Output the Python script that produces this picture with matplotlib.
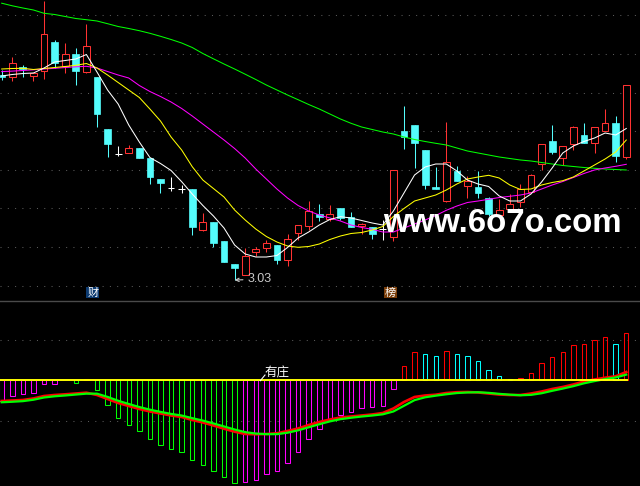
import numpy as np
import matplotlib
matplotlib.use('Agg')
import matplotlib.pyplot as plt
from matplotlib.patches import Rectangle
from matplotlib.lines import Line2D

plt.rcParams['font.family'] = ['Noto Sans CJK SC', 'DejaVu Sans']

# ---------------- data ----------------
opens = [5.08, 5.06, 5.16, 5.07, 5.12, 5.41, 5.17, 5.29, 5.11, 5.06,
         4.54, 4.29, 4.30, 4.35, 4.25, 4.04, 3.95, 3.94, 3.94, 3.53,
         3.61, 3.42, 3.19, 3.08, 3.31, 3.35, 3.38, 3.23, 3.50, 3.57,
         3.69, 3.64, 3.75, 3.66, 3.57, 3.56, 3.54, 3.46, 4.52, 4.58,
         4.33, 3.96, 3.82, 4.12, 3.97, 3.96, 3.85, 3.68, 3.74, 3.81,
         3.91, 4.19, 4.42, 4.25, 4.39, 4.48, 4.40, 4.52, 4.60, 4.26]
closes = [5.06, 5.20, 5.14, 5.10, 5.49, 5.20, 5.29, 5.12, 5.37, 4.69,
          4.39, 4.29, 4.35, 4.25, 4.06, 4.00, 3.95, 3.94, 3.56, 3.61,
          3.40, 3.21, 3.15, 3.27, 3.34, 3.40, 3.23, 3.44, 3.58, 3.72,
          3.66, 3.69, 3.65, 3.56, 3.59, 3.49, 3.54, 4.13, 4.46, 4.40,
          3.98, 3.94, 4.21, 4.02, 4.02, 3.90, 3.69, 3.73, 3.79, 3.94,
          4.08, 4.39, 4.31, 4.37, 4.56, 4.40, 4.56, 4.60, 4.27, 4.98]
highs = [5.13, 5.26, 5.18, 5.10, 5.82, 5.43, 5.40, 5.35, 5.59, 5.06,
         4.54, 4.37, 4.38, 4.35, 4.25, 4.04, 4.06, 3.98, 3.94, 3.70,
         3.61, 3.42, 3.19, 3.35, 3.36, 3.43, 3.38, 3.49, 3.58, 3.82,
         3.79, 3.78, 3.75, 3.71, 3.60, 3.56, 3.63, 4.13, 4.77, 4.58,
         4.33, 4.16, 4.61, 4.17, 4.07, 4.12, 3.86, 3.84, 3.89, 3.99,
         4.09, 4.39, 4.58, 4.37, 4.57, 4.60, 4.56, 4.74, 4.67, 4.98]
lows = [5.03, 5.02, 5.06, 5.02, 5.04, 5.15, 5.10, 4.98, 5.10, 4.56,
        4.26, 4.27, 4.30, 4.25, 3.99, 3.90, 3.92, 3.90, 3.48, 3.52,
        3.36, 3.21, 3.03, 3.08, 3.27, 3.31, 3.19, 3.17, 3.43, 3.53,
        3.62, 3.62, 3.63, 3.56, 3.49, 3.44, 3.43, 3.42, 4.34, 4.15,
        3.94, 3.94, 3.81, 4.02, 3.85, 3.85, 3.67, 3.68, 3.74, 3.76,
        3.91, 4.13, 4.29, 4.18, 4.33, 4.40, 4.30, 4.52, 4.21, 4.24]

ma5 = [5.07, 5.085, 5.095, 5.10, 5.15, 5.21, 5.225, 5.24, 5.285, 5.11,
       4.93, 4.79, 4.58, 4.41, 4.255, 4.195, 4.125, 4.013, 3.89, 3.775,
       3.67, 3.55, 3.38, 3.29, 3.26, 3.26, 3.275, 3.355, 3.45, 3.51,
       3.58, 3.635, 3.663, 3.65, 3.625, 3.60, 3.58, 3.72, 3.90, 4.08,
       4.16, 4.19, 4.19, 4.12, 4.03, 3.99, 3.965, 3.87, 3.82, 3.82,
       3.89, 4.01, 4.15, 4.30, 4.37, 4.415, 4.45, 4.50, 4.48, 4.545]
ma10 = [5.14, 5.145, 5.147, 5.135, 5.145, 5.155, 5.165, 5.177, 5.195, 5.15,
        5.08, 5.005, 4.93, 4.855, 4.74, 4.62, 4.46, 4.33, 4.163, 4.03,
        3.945, 3.86, 3.73, 3.63, 3.54, 3.465, 3.41, 3.37, 3.357, 3.365,
        3.39, 3.435, 3.47, 3.495, 3.505, 3.53, 3.565, 3.665, 3.745, 3.82,
        3.85, 3.88, 3.93, 3.99, 4.04, 4.06, 4.077, 4.05, 3.98, 3.935,
        3.94, 3.98, 4.005, 4.023, 4.06, 4.12, 4.18, 4.24, 4.31, 4.43]
ma20 = [5.114, 5.119, 5.125, 5.132, 5.14, 5.147, 5.155, 5.162, 5.167, 5.15,
        5.115, 5.08, 5.05, 4.975, 4.915, 4.865, 4.81, 4.745, 4.67, 4.59,
        4.51, 4.43, 4.345, 4.25, 4.14, 4.04, 3.94, 3.85, 3.775, 3.72,
        3.68, 3.65, 3.62, 3.58, 3.555, 3.537, 3.51, 3.51, 3.55, 3.59,
        3.63, 3.675, 3.727, 3.77, 3.805, 3.82, 3.837, 3.855, 3.867, 3.88,
        3.90, 3.94, 3.98, 4.015, 4.055, 4.095, 4.13, 4.15, 4.167, 4.187]
ma60 = [5.798, 5.772, 5.75, 5.73, 5.697, 5.685, 5.665, 5.645, 5.633, 5.62,
        5.593, 5.565, 5.545, 5.523, 5.497, 5.467, 5.435, 5.40, 5.355, 5.295,
        5.242, 5.19, 5.14, 5.088, 5.035, 4.98, 4.93, 4.88, 4.833, 4.785,
        4.74, 4.69, 4.64, 4.597, 4.56, 4.535, 4.51, 4.49, 4.46, 4.435,
        4.415, 4.397, 4.38, 4.35, 4.32, 4.30, 4.28, 4.26, 4.245, 4.23,
        4.22, 4.205, 4.19, 4.175, 4.165, 4.155, 4.147, 4.14, 4.135, 4.13]

macd_bars = [-0.050, -0.040, -0.035, -0.032, -0.010, -0.009, 0.0, -0.0074, 0.0032, -0.0247,
             -0.060, -0.092, -0.110, -0.124, -0.144, -0.159, -0.169, -0.176, -0.198, -0.208,
             -0.223, -0.240, -0.254, -0.252, -0.245, -0.231, -0.223, -0.203, -0.176, -0.144,
             -0.121, -0.098, -0.085, -0.078, -0.068, -0.067, -0.063, -0.021, 0.035, 0.069,
             0.064, 0.059, 0.072, 0.064, 0.059, 0.047, 0.025, 0.010, 0.003, 0.005,
             0.017, 0.042, 0.057, 0.069, 0.086, 0.089, 0.099, 0.106, 0.089, 0.116]
dif = [-0.0511, -0.0499, -0.0486, -0.0449, -0.0388, -0.0363, -0.0346, -0.0326, -0.0306, -0.0363,
       -0.0462, -0.0560, -0.0635, -0.0709, -0.0770, -0.0820, -0.0869, -0.0906, -0.0980, -0.1042,
       -0.1116, -0.1195, -0.1269, -0.1326, -0.1333, -0.1326, -0.1309, -0.1252, -0.1190, -0.1104,
       -0.1030, -0.0968, -0.0919, -0.0894, -0.0869, -0.0844, -0.0807, -0.0696, -0.0536, -0.0412,
       -0.0375, -0.0356, -0.0314, -0.0294, -0.0289, -0.0301, -0.0326, -0.0351, -0.0363, -0.0363,
       -0.0326, -0.0277, -0.0215, -0.0165, -0.0104, -0.0030, 0.0020, 0.0064, 0.0099, 0.0205]
dea = [-0.0543, -0.0530, -0.0515, -0.0480, -0.0425, -0.0395, -0.0375, -0.0352, -0.0330, -0.0330,
       -0.0410, -0.0505, -0.0585, -0.0660, -0.0725, -0.0780, -0.0830, -0.0870, -0.0935, -0.0995,
       -0.1065, -0.1140, -0.1215, -0.1280, -0.1315, -0.1330, -0.1330, -0.1295, -0.1235, -0.1160,
       -0.1085, -0.1015, -0.0960, -0.0925, -0.0895, -0.0870, -0.0840, -0.0770, -0.0630, -0.0490,
       -0.0420, -0.0380, -0.0345, -0.0315, -0.0300, -0.0295, -0.0310, -0.0335, -0.0355, -0.0370,
       -0.0360, -0.0320, -0.0260, -0.0205, -0.0145, -0.0075, -0.0020, 0.0030, 0.0070, 0.0140]

mark_labels = ['财', '榜']
mark_pos = [8.6, 36.7]
mark_colors = ['#0c3a70', '#7a3e0a']
note_text = '有庄'
watermark = 'www.6o7o.com'

# ---------------- style ----------------
RED = '#ff3232'
CYAN = '#54fcfc'
W, H = 640, 486
PXB = 10.586               # pixels per bar
x0 = -1.7 / PXB
x1 = (W - 1.7) / PXB
LW1 = 0.75                 # ~1 px

fig = plt.figure(figsize=(6.4, 4.86), dpi=100, facecolor='black')

# ---- price panel ----
top_h = 301
ax = fig.add_axes([0, 1 - top_h / H, 1, top_h / H])
ax.set_facecolor('black')
ax.set_xlim(x0, x1)
ax.set_ylim(5.83 - 3.01, 5.83)
ax.axis('off')

for g in 5.677 - 0.386 * np.arange(8):
    ax.axhline(g, color='#5a5a5a', lw=LW1, ls=(0, (1, 6)), zorder=0)

bw = 0.64
for i, (o, c, h, l) in enumerate(zip(opens, closes, highs, lows)):
    if c > o:
        ax.add_patch(Rectangle((i - bw / 2, o), bw, c - o, facecolor='black',
                               edgecolor=RED, lw=LW1, zorder=3))
        ax.vlines(i, c, h, color=RED, lw=LW1, zorder=3)
        ax.vlines(i, l, o, color=RED, lw=LW1, zorder=3)
    elif c < o:
        ax.vlines(i, l, h, color=CYAN, lw=LW1, zorder=2)
        ax.add_patch(Rectangle((i - bw / 2, c), bw, o - c, facecolor=CYAN,
                               edgecolor=CYAN, lw=0.5, zorder=3))
    else:
        ax.vlines(i, l, h, color='white', lw=LW1, zorder=3)
        ax.hlines(o, i - bw / 2, i + bw / 2, color='white', lw=LW1, zorder=3)

idx = np.arange(len(opens))
ax.plot(idx, ma60, color='#00ff00', lw=LW1, zorder=4)
ax.plot(idx, ma20, color='#ff00ff', lw=LW1, zorder=4)
ax.plot(idx, ma10, color='#ffff00', lw=LW1, zorder=4)
ax.plot(idx, ma5, color='white', lw=LW1, zorder=5)

k = int(np.argmin(lows))
ax.annotate(f'{lows[k]:.2f}', xy=(k, lows[k]), xytext=(9, 0.5), textcoords='offset points',
            color='#c8c8c8', fontsize=9, family='Liberation Sans', ha='left', va='center',
            arrowprops=dict(arrowstyle='->', color='#c8c8c8', lw=0.8, shrinkA=1, shrinkB=0,
                            mutation_scale=6), zorder=6)

for lab, xp, fc in zip(mark_labels, mark_pos, mark_colors):
    ax.text(xp, 2.905, lab, color='white', fontsize=8, ha='center', va='center',
            bbox=dict(boxstyle='square,pad=0.08', fc=fc, ec='none'), zorder=6)

fig.text(383 / W, 1 - 232 / H, watermark, color='white', fontsize=23.8,
         fontweight='bold', family='Liberation Sans', ha='left', va='baseline', zorder=10)

fig.add_artist(Line2D([0, 1], [1 - 301.3 / H] * 2, color='#4a4a4a', lw=1.0,
                      transform=fig.transFigure))

# ---- indicator panel ----
ax2 = fig.add_axes([0, 0, 1, 184 / H])
ax2.set_facecolor('black')
ax2.set_xlim(x0, x1)
ax2.set_ylim(-0.261, 0.1933)
ax2.axis('off')
for g in (0.0988, -0.1012):
    ax2.axhline(g, color='#5a5a5a', lw=LW1, ls=(0, (1, 6)), zorder=0)

for i, v in enumerate(macd_bars):
    prev = macd_bars[i - 1] if i > 0 else v
    if v >= 0:
        col = '#ff0000' if v >= prev else '#00ffff'
    else:
        col = '#00ff00' if v < prev else '#ff00ff'
    if v != 0:
        ax2.bar(i, v, width=0.42, fill=False, edgecolor=col, lw=LW1, zorder=2)

ax2.plot(idx, dif, color='#ff0000', lw=1.9, zorder=3)
ax2.plot(idx, dea, color='#00ff00', lw=1.6, zorder=4)
ax2.plot([x0, len(opens) - 1 + 0.05], [0, 0], color='#ffff00', lw=1.4, zorder=5)

ax2.plot([24.43, 24.87], [-0.001, 0.013], color='white', lw=0.8, zorder=6)
ax2.text(24.87, 0.019, note_text, color='white', fontsize=9, ha='left', va='center', zorder=6)

fig.savefig('out.png', dpi=100, facecolor='black')
